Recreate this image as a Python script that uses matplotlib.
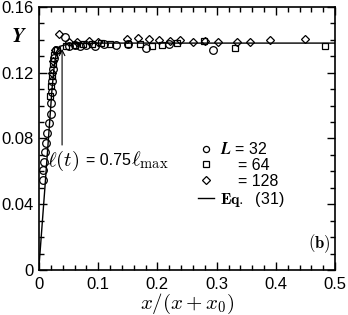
import numpy as np
import matplotlib.pyplot as plt
from matplotlib.ticker import MultipleLocator

plt.rcParams['font.family'] = ['Liberation Sans', 'DejaVu Sans']
plt.rcParams['mathtext.fontset'] = 'cm'

# L = 32 (circles)
x32 = [0.0063, 0.0073, 0.0084, 0.0101, 0.0118, 0.0140, 0.0174, 0.0198, 0.0198, 0.0215,
       0.0225, 0.0240, 0.0260, 0.0290, 0.044, 0.050, 0.060, 0.070, 0.080, 0.095,
       0.110, 0.130, 0.150, 0.181, 0.220, 0.294]
y32 = [0.0547, 0.0608, 0.0657, 0.0718, 0.0773, 0.0833, 0.0894, 0.0949, 0.1016, 0.1085,
       0.1150, 0.1220, 0.1290, 0.1335, 0.1420, 0.1365, 0.1370, 0.1365, 0.1370, 0.1360,
       0.1375, 0.1370, 0.1375, 0.1348, 0.1375, 0.1340]

# L = 64 (squares)
x64 = [0.019, 0.021, 0.022, 0.024, 0.026, 0.030, 0.045, 0.060, 0.075, 0.090,
       0.105, 0.120, 0.151, 0.171, 0.190, 0.207, 0.233, 0.279, 0.331, 0.483]
y64 = [0.1060, 0.1120, 0.1180, 0.1250, 0.1310, 0.1340, 0.1365, 0.1370, 0.1375, 0.1375,
       0.1380, 0.1375, 0.1375, 0.1375, 0.1362, 0.1370, 0.1380, 0.1393, 0.1350, 0.1360]

# L = 128 (diamonds)
x128 = [0.022, 0.024, 0.027, 0.033, 0.050, 0.065, 0.085, 0.100, 0.149, 0.167,
        0.185, 0.203, 0.221, 0.238, 0.260, 0.280, 0.303, 0.334, 0.356, 0.390, 0.449]
y128 = [0.1200, 0.1270, 0.1340, 0.1435, 0.1385, 0.1385, 0.1390, 0.1385, 0.1405, 0.1410,
        0.1405, 0.1400, 0.1395, 0.1400, 0.1389, 0.1393, 0.1385, 0.1385, 0.1385, 0.1400, 0.1405]

# Eq. (31)
x_eq = [0.0, 0.010, 0.018, 0.022, 0.026, 0.030, 0.035, 0.050, 0.10, 0.5]
y_eq = [0.002, 0.050, 0.090, 0.110, 0.125, 0.133, 0.136, 0.1375, 0.138, 0.138]

fig = plt.figure(figsize=(3.48, 3.15), dpi=100)
ax = fig.add_axes([0.112, 0.143, 0.851, 0.835])

ax.plot(x32, y32, 'o', ms=5.5, mfc='none', mec='black', mew=0.9, label=r'$\mathbfit{L}$ = 32')
ax.plot(x64, y64, 's', ms=5, mfc='none', mec='black', mew=0.9, label='    = 64')
ax.plot(x128, y128, 'D', ms=4.5, mfc='none', mec='black', mew=0.9, label='    = 128')
ax.plot(x_eq, y_eq, '-', color='black', lw=1.0, label=r'$\mathbf{Eq.}$  (31)')

# arrow marking l(t) = 0.75 l_max
ax.annotate('', xy=(0.039, 0.1345), xytext=(0.039, 0.076),
            arrowprops=dict(arrowstyle='->', lw=0.8, color='black', shrinkA=0, shrinkB=0))
ax.text(0.013, 0.0665, r'$\ell(t)$', fontsize=15, va='center')
ax.text(0.080, 0.0665, '= 0.75', fontsize=11.5, va='center')
ax.text(0.155, 0.0665, r'$\ell_{\rm max}$', fontsize=15, va='center')
ax.text(0.985, 0.10, r'$\mathbf{(b)}$', transform=ax.transAxes, ha='right', va='center', fontsize=12)

ax.set_xlim(0, 0.5)
ax.set_ylim(0, 0.16)
ax.xaxis.set_minor_locator(MultipleLocator(0.02))
ax.yaxis.set_minor_locator(MultipleLocator(0.01))
ax.set_xticks([0, 0.1, 0.2, 0.3, 0.4, 0.5])
ax.set_xticklabels(['0', '0.1', '0.2', '0.3', '0.4', '0.5'])
ax.set_yticks([0, 0.04, 0.08, 0.12, 0.16])
ax.set_yticklabels(['0', '0.04', '0.08', '0.12', '0.16'])
ax.tick_params(which='both', direction='in', top=True, right=True, labelsize=12, width=1)
ax.tick_params(axis='x', pad=5)
ax.tick_params(which='major', length=6)
ax.tick_params(which='minor', length=3.5)
for s in ax.spines.values():
    s.set_linewidth(1.2)

ax.set_xlabel(r'$x/(x+x_0)$', fontsize=15, labelpad=0)
ax.set_ylabel(r'$\mathbfit{Y}$', fontsize=15, rotation=0)
ax.yaxis.set_label_coords(-0.069, 0.85)

ax.legend(loc='upper left', bbox_to_anchor=(0.51, 0.52), frameon=False, fontsize=11.5,
          handlelength=1.0, handletextpad=0.4, labelspacing=0.05, borderpad=0,
          markerscale=0.8)

fig.savefig('out.png', dpi=100)
